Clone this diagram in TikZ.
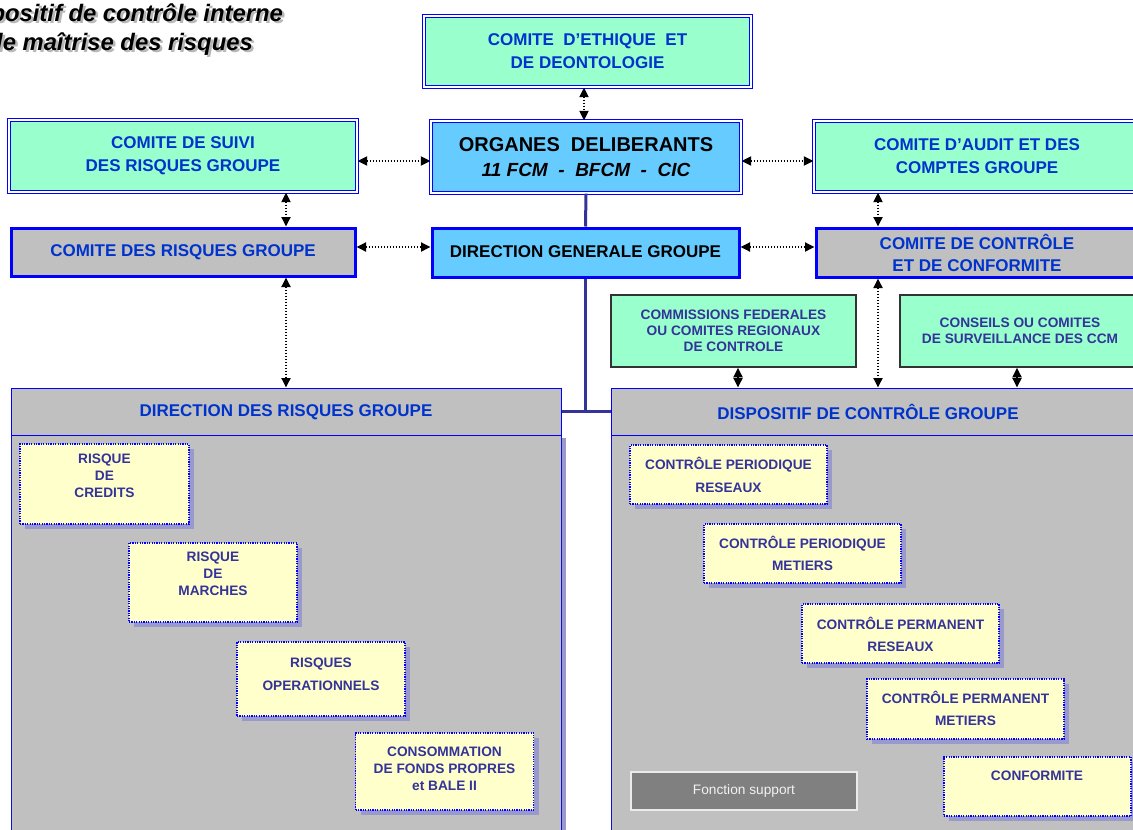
\documentclass[tikz,border=0pt]{standalone}
\usepackage{fontspec}
\setmainfont{Liberation Sans}
\usetikzlibrary{arrows.meta,shadows}
\definecolor{mint}{RGB}{153,255,204}
\definecolor{skyb}{RGB}{102,204,255}
\definecolor{greyb}{RGB}{192,192,192}
\definecolor{bordb}{RGB}{0,0,255}
\definecolor{txtb}{RGB}{0,51,204}
\definecolor{navyc}{RGB}{51,51,153}
\definecolor{paley}{RGB}{255,255,204}
\definecolor{lav}{RGB}{153,153,204}
\definecolor{dgrey}{RGB}{128,128,128}
\newcommand\fsz[2]{\fontsize{#1}{#2}\selectfont}
\begin{document}
\begin{tikzpicture}[x=1pt,y=-1pt,
  dblg/.style={draw=bordb, line width=1.3pt, double=white, double distance=2pt, fill=mint, inner sep=0pt, align=center, text=txtb, font=\bfseries\fsz{17}{23}},
  dblb/.style={dblg, fill=skyb, text=black},
  thickbox/.style={draw=bordb, line width=3pt, fill=greyb, inner sep=0pt, align=center, text=txtb, font=\bfseries\fsz{17}{22}},
  hdr/.style={draw=bordb, line width=1pt, fill=greyb, inner sep=0pt, align=center, text=txtb, font=\bfseries\fsz{17}{20}},
  body/.style={draw=bordb!70!navyc, line width=1pt, fill=greyb, inner sep=0pt},
  ybox/.style={draw=bordb, line width=1.4pt, dash pattern=on 1.2pt off 1.2pt, fill=paley, inner sep=0pt, general shadow={fill=lav, shadow xshift=5pt, shadow yshift=-5pt}},
  ytxt/.style={text=navyc, font=\bfseries\fsz{13.7}{17}, align=center, inner sep=0pt},
  gbox/.style={draw=black!80, line width=1.5pt, fill=mint, inner sep=0pt, align=center, text=navyc, font=\bfseries\fsz{13.7}{16}},
  link/.style={draw=navyc, line width=3pt},
  biarrow/.style={{Triangle[length=9.5pt,width=9pt]}-{Triangle[length=9.5pt,width=9pt]}, dash pattern=on 1.6pt off 1.4pt, line width=1.8pt, black},
  ttl/.style={anchor=base east, inner sep=0pt, font=\bfseries\itshape\fsz{23.8}{28}}
]
\useasboundingbox (0,0) rectangle (1133,830);
\fill[white] (0,0) rectangle (1133,830);
\clip (0,0) rectangle (1133,830);

% title
\node[ttl, text=black!28] (t1s) at (285.5,23.5) {positif de contrôle interne};
\node[ttl, text=black!28] (t2s) at (255.5,52.5) {de maîtrise des risques};
\node[ttl] (t1) at (283,21) {positif de contrôle interne};
\node[ttl] (t2) at (253,50) {de maîtrise des risques};

% top committees
\node[dblg, minimum width=327pt, minimum height=71pt] (ethique) at (587.5,51.5) {COMITE~~D’ETHIQUE~~ET\\DE DEONTOLOGIE};
\node[dblb, minimum width=310pt, minimum height=72pt, font=\bfseries\fsz{20}{25}] (organes) at (586,157) {ORGANES~~DELIBERANTS\\{\itshape\fsz{19}{25}11 FCM~~-~~BFCM~~-~~CIC}};
\node[dblg, minimum width=348pt, minimum height=72pt] (suivi) at (183,156) {COMITE DE SUIVI\\DES RISQUES GROUPE};
\node[dblg, minimum width=326pt, minimum height=71pt] (audit) at (977,156.5) {COMITE D’AUDIT ET DES\\COMPTES GROUPE};

\node[thickbox, minimum width=344pt, minimum height=48pt, text depth=2pt] (crg) at (183,252) {COMITE DES RISQUES GROUPE};
\node[thickbox, fill=skyb, text=black, minimum width=307pt, minimum height=49pt, text depth=2pt] (dg) at (585.5,252.5) {DIRECTION GENERALE GROUPE};
\node[thickbox, minimum width=322pt, minimum height=49pt] (ccc) at (977,252.5) {COMITE DE CONTRÔLE\\ET DE CONFORMITE};

\node[gbox, minimum width=245pt, minimum height=72pt] (comm) at (733.5,331) {COMMISSIONS FEDERALES\\OU COMITES REGIONAUX\\DE CONTROLE};
\node[gbox, minimum width=240pt, minimum height=72pt] (conseils) at (1020,331) {CONSEILS OU COMITES\\DE SURVEILLANCE DES CCM};

% big containers
\node[body, minimum width=550pt, minimum height=405pt, general shadow={fill=lav, shadow xshift=5pt, shadow yshift=-3pt}] (drgB) at (286,637.5) {};
\node[body, minimum width=534pt, minimum height=405pt] (dcgB) at (878,637.5) {};
\node[hdr, minimum width=550pt, minimum height=47pt, text depth=2pt] (drgH) at (286,411.5) {DIRECTION DES RISQUES GROUPE};
\node[hdr, minimum width=534pt, minimum height=47pt] (dcgH) at (878,411.5) {};
\node[inner sep=0pt, text=txtb, font=\bfseries\fsz{17}{20}] (dcgT) at (868,411.5) {DISPOSITIF DE CONTRÔLE GROUPE};

% risk boxes
\node[ybox, minimum width=169pt, minimum height=80pt] (credits) at (104.5,484) {};
\node[ytxt] (creditsT) at (104.5,475.5) {RISQUE\\DE\\CREDITS};
\node[ybox, minimum width=168pt, minimum height=79pt] (marches) at (213,582.5) {};
\node[ytxt] (marchesT) at (213,573.5) {RISQUE\\DE\\MARCHES};
\node[ybox, minimum width=168pt, minimum height=74pt] (operat) at (321,679) {};
\node[ytxt, font=\bfseries\fsz{13.7}{23}] (operatT) at (321,674.5) {RISQUES\\OPERATIONNELS};
\node[ybox, minimum width=178pt, minimum height=77pt] (conso) at (444.5,771.5) {};
\node[ytxt] (consoT) at (444.5,768.5) {CONSOMMATION\\DE FONDS PROPRES\\et BALE II};

% control boxes
\node[ybox, minimum width=197pt, minimum height=59pt] (cpr) at (728.5,474.5) {};
\node[ytxt, font=\bfseries\fsz{13.7}{22.5}] (cprT) at (728.5,475) {CONTRÔLE PERIODIQUE\\RESEAUX};
\node[ybox, minimum width=197pt, minimum height=59pt] (cpm) at (802.5,553.5) {};
\node[ytxt, font=\bfseries\fsz{13.7}{22.5}] (cpmT) at (802.5,553.5) {CONTRÔLE PERIODIQUE\\METIERS};
\node[ybox, minimum width=197pt, minimum height=59pt] (cper) at (900.5,633.5) {};
\node[ytxt, font=\bfseries\fsz{13.7}{22.5}] (cperT) at (900.5,634.5) {CONTRÔLE PERMANENT\\RESEAUX};
\node[ybox, minimum width=197pt, minimum height=60pt] (cpem) at (965.5,709) {};
\node[ytxt, font=\bfseries\fsz{13.7}{22.5}] (cpemT) at (965.5,708.5) {CONTRÔLE PERMANENT\\METIERS};
\node[ybox, minimum width=187pt, minimum height=59pt] (conf) at (1037.5,786.5) {};
\node[ytxt] (confT) at (1037,776) {CONFORMITE};

\node[draw=black!8, line width=1.5pt, fill=dgrey, text=black!5, font=\fsz{13.7}{16}, minimum width=226pt, minimum height=38pt, inner sep=0pt] (fonction) at (744,791) {Fonction support};

% solid hierarchy link
\draw[link] (organes.south) -- (dg.north);
\draw[link] (dg.south) -- (dg.south |- drgH.east);
\draw[link] (drgH.east) -- (dcgH.west);

% dotted double arrows
\coordinate (xa) at (584,0);
\coordinate (xb) at (286,0);
\coordinate (xc) at (878,0);
\coordinate (xd) at (738,0);
\coordinate (xe) at (1017,0);
\coordinate (ya) at (0,161);
\coordinate (yb) at (0,247);
\draw[biarrow] (ethique.south -| xa) -- (organes.north -| xa);
\draw[biarrow] (suivi.east |- ya) -- (organes.west |- ya);
\draw[biarrow] (organes.east |- ya) -- (audit.west |- ya);
\draw[biarrow] (crg.east |- yb) -- (dg.west |- yb);
\draw[biarrow] (dg.east |- yb) -- (ccc.west |- yb);
\draw[biarrow] (suivi.south -| xb) -- (crg.north -| xb);
\draw[biarrow] (crg.south -| xb) -- (drgH.north -| xb);
\draw[biarrow] (audit.south -| xc) -- (ccc.north -| xc);
\draw[biarrow] (ccc.south -| xc) -- (dcgH.north -| xc);
\draw[biarrow] (comm.south -| xd) -- (dcgH.north -| xd);
\draw[biarrow] (conseils.south -| xe) -- (dcgH.north -| xe);
\end{tikzpicture}
\end{document}
